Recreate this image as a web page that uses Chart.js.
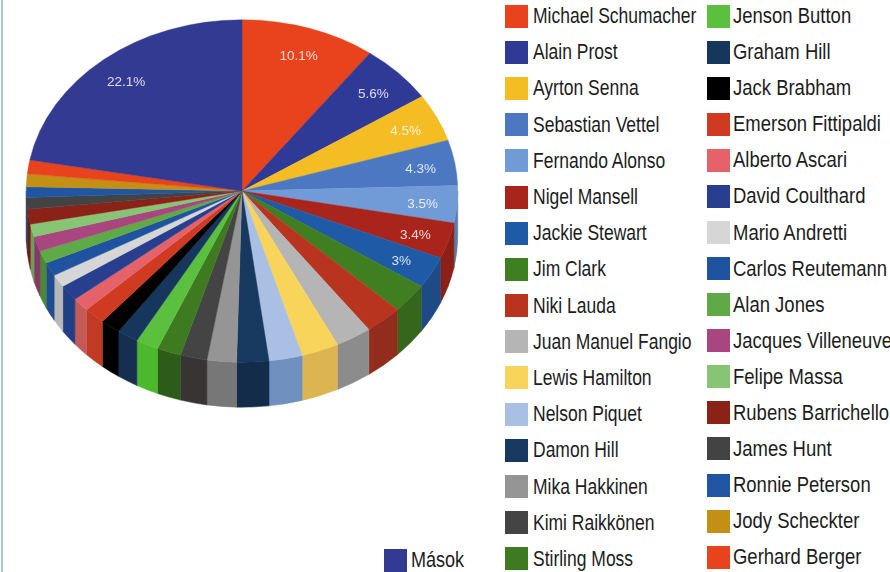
<!DOCTYPE html>
<html>
<head>
<meta charset="utf-8">
<title>Futamgyőzelmek</title>
<script src="https://cdn.jsdelivr.net/npm/chart.js@4/dist/chart.umd.min.js"></script>
<style>
    html, body { margin: 0; padding: 0; background: #fff; }
    body { position: relative; width: 890px; height: 572px; overflow: hidden; }
    #edge { position: absolute; left: 1px; top: 0; bottom: 0; width: 2px; background: #a9c6da; }
    #pieBox { position: absolute; left: 0; top: 0; width: 484px; height: 432px; }
    .legend-col { position: absolute; font: 22px "Liberation Sans", sans-serif; color: #1c1c1c; }
    .legend-row { display: flex; align-items: center; height: 36.2px; white-space: nowrap; }
    .swatch { width: 23px; height: 23px; flex: none; }
    /* no condensed face is installed, so the regular one gets squeezed */
    .legend-text { display: inline-block; transform: scaleX(0.795); transform-origin: left center; }
    #col1 { left: 505px; top: -2px; }
    #col2 { left: 707px; top: -2px; }
    #col3 { left: 384px; top: 542px; }
    #col1 .swatch { margin-right: 5px; }
    #col2 .swatch { margin-right: 3px; }
    #col3 .swatch { margin-right: 4px; }
    #col2 .legend-row { height: 36.08px; }
    #col2 .legend-text { transform: scaleX(0.84); }
    #col3 .legend-text { transform: scaleX(0.82); }
</style>
</head>
<body>
<div id="edge"></div>
<div id="pieBox"><canvas id="winsChart"></canvas></div>
<div class="legend-col" id="col1"></div>
<div class="legend-col" id="col2"></div>
<div class="legend-col" id="col3"></div>

<script>
// Share of Grand Prix wins per driver, in percent
const drivers = [
    'Michael Schumacher', 'Alain Prost', 'Ayrton Senna', 'Sebastian Vettel',
    'Fernando Alonso', 'Nigel Mansell', 'Jackie Stewart', 'Jim Clark',
    'Niki Lauda', 'Juan Manuel Fangio', 'Lewis Hamilton', 'Nelson Piquet',
    'Damon Hill', 'Mika Hakkinen', 'Kimi Raikkönen', 'Stirling Moss',
    'Jenson Button', 'Graham Hill', 'Jack Brabham', 'Emerson Fittipaldi',
    'Alberto Ascari', 'David Coulthard', 'Mario Andretti', 'Carlos Reutemann',
    'Alan Jones', 'Jacques Villeneuve', 'Felipe Massa', 'Rubens Barrichello',
    'James Hunt', 'Ronnie Peterson', 'Jody Scheckter', 'Gerhard Berger',
    'Mások'
];
const shares = [
    10.1, 5.6, 4.5, 4.3,
    3.5, 3.4, 3, 2.8,
    2.8, 2.7, 2.8, 2.5,
    2.4, 2.2, 2.0, 1.8,
    1.7, 1.6, 1.5, 1.6,
    1.3, 1.5, 1.2, 1.3,
    1.2, 1.4, 1.2, 1.4,
    1.1, 1.0, 1.2, 1.3,
    22.1
];
const topColors = [
    '#e8431c', '#2f3a96', '#f4bd24', '#4c78c2',
    '#709bd6', '#a9251c', '#1f5aa6', '#3f7f22',
    '#b8341f', '#b5b5b5', '#f8d45a', '#a9c0e4',
    '#17395f', '#959595', '#444444', '#3d7a20',
    '#5cc03f', '#17365e', '#000000', '#cf3a20',
    '#e5626a', '#273f8e', '#d6d6d6', '#1f53a0',
    '#5faa46', '#a9457f', '#87c474', '#8a2218',
    '#434343', '#1f55a3', '#c38f14', '#e8431c',
    '#333a92'
];
const wallColors = [
    '#b93516', '#252e78', '#c39720', '#3d609b',
    '#5a7cab', '#8c2016', '#1e4a85', '#35661b',
    '#922c1c', '#8c8c8c', '#dcb452', '#7091c0',
    '#132c4a', '#777777', '#383434', '#2d5c1a',
    '#4cb82c', '#162f50', '#000000', '#c03a24',
    '#c45a58', '#203f85', '#b8b8b8', '#1f4d90',
    '#4c8838', '#873766', '#6c9d5d', '#6e1b13',
    '#363636', '#1a4482', '#9c7210', '#b93516',
    '#292e75'
];

// Only slices of at least this share carry a percent label
const labelFrom = 3;

// Top face is squashed into an ellipse, the wall hangs below it
const squash = 0.7935;
const faceY = 191;
const wallDepth = 45;

function faceCentre(arc) {
    return { x: arc.x, y: faceY, rx: arc.outerRadius, ry: arc.outerRadius * squash };
}

const tiltedPie = {
    id: 'tiltedPie',
    beforeDatasetsDraw(chart) {
        const ctx = chart.ctx;
        const arcs = chart.getDatasetMeta(0).data;

        // side wall, only the front half of the rim is visible
        arcs.forEach((arc, i) => {
            const c = faceCentre(arc);
            const a0 = Math.max(arc.startAngle, 0);
            const a1 = Math.min(arc.endAngle, Math.PI);
            if (a1 <= a0) return;
            ctx.beginPath();
            ctx.ellipse(c.x, c.y, c.rx, c.ry, 0, a0, a1);
            ctx.ellipse(c.x, c.y + wallDepth, c.rx, c.ry, 0, a1, a0, true);
            ctx.closePath();
            ctx.fillStyle = wallColors[i];
            ctx.strokeStyle = wallColors[i];
            ctx.lineWidth = 0.5;
            ctx.fill();
            ctx.stroke();
        });

        ctx.save();
        const first = arcs[0];
        ctx.translate(first.x, faceY);
        ctx.scale(1, squash);
        ctx.translate(-first.x, -first.y);
    },
    afterDatasetsDraw(chart) {
        const ctx = chart.ctx;
        ctx.restore();

        ctx.font = '13.5px "Liberation Sans", sans-serif';
        ctx.textAlign = 'center';
        ctx.textBaseline = 'middle';
        ctx.fillStyle = 'rgba(255,255,255,0.82)';
        chart.getDatasetMeta(0).data.forEach((arc, i) => {
            if (shares[i] < labelFrom) return;
            const c = faceCentre(arc);
            const mid = (arc.startAngle + arc.endAngle) / 2;
            const x = c.x + Math.cos(mid) * c.rx * 0.84;
            const y = c.y + Math.sin(mid) * c.ry * 0.84 + 2;
            ctx.fillText(shares[i] + '%', x, y);
        });
    }
};

const chart = new Chart(document.getElementById('winsChart'), {
    type: 'pie',
    data: {
        labels: drivers,
        datasets: [{
            data: shares,
            backgroundColor: topColors,
            borderColor: topColors,
            borderWidth: 0.5,
            hoverOffset: 0
        }]
    },
    options: {
        responsive: true,
        maintainAspectRatio: false,
        animation: false,
        layout: { padding: 0 },
        plugins: {
            legend: { display: false },
            tooltip: { enabled: false }
        }
    },
    plugins: [tiltedPie]
});

// Legend lives outside the canvas: two long columns plus the "others" entry
function buildLegend() {
    const items = chart.options.plugins.legend.labels.generateLabels(chart);
    items.forEach((item, i) => {
        const col = i < 16 ? 'col1' : i < 32 ? 'col2' : 'col3';
        const row = document.createElement('div');
        row.className = 'legend-row';
        const swatch = document.createElement('span');
        swatch.className = 'swatch';
        swatch.style.background = item.fillStyle;
        const text = document.createElement('span');
        text.className = 'legend-text';
        text.textContent = item.text;
        row.appendChild(swatch);
        row.appendChild(text);
        document.getElementById(col).appendChild(row);
    });
}

buildLegend();
</script>
</body>
</html>
